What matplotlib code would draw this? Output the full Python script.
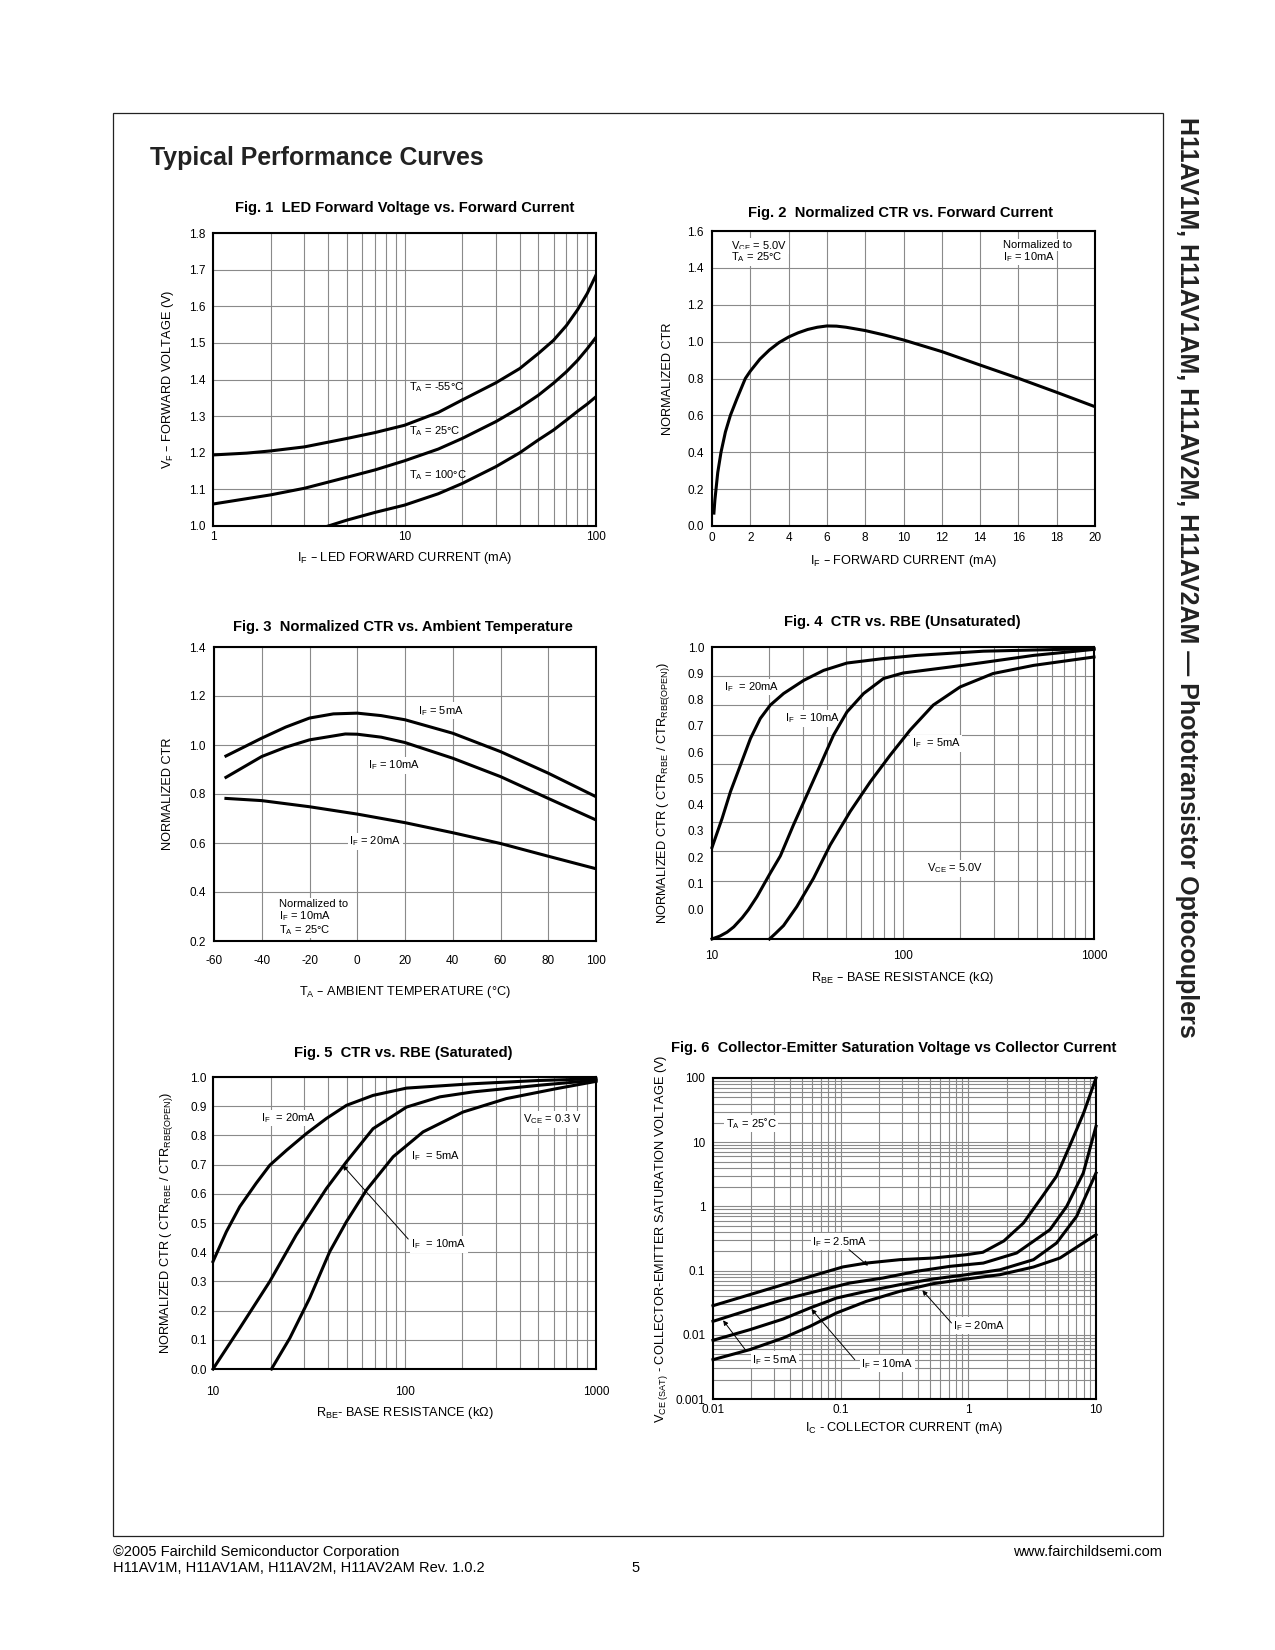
#!/usr/bin/env python3
"""Typical performance curves page (H11AV1M family datasheet, page 5)."""

import matplotlib
matplotlib.use("Agg")
from matplotlib import pyplot as plt
from matplotlib import font_manager
from matplotlib.patches import Rectangle
import numpy as np

# ---- Fig. 1: LED forward voltage vs forward current ----
F1_IF_COLD = [1, 1.5, 2, 3, 5, 7, 10, 15, 20, 30, 40, 50, 60, 70, 80, 90, 100]
F1_VF_COLD = [1.194, 1.199, 1.205, 1.216, 1.239, 1.255, 1.275, 1.31, 1.344,
              1.391, 1.43, 1.471, 1.507, 1.547, 1.59, 1.635, 1.685]
F1_IF_ROOM = [1, 2, 3, 5, 7, 10, 15, 20, 30, 40, 50, 60, 70, 80, 90, 100]
F1_VF_ROOM = [1.06, 1.085, 1.103, 1.133, 1.153, 1.178, 1.21, 1.239, 1.285,
              1.323, 1.357, 1.39, 1.421, 1.452, 1.484, 1.515]
F1_IF_HOT = [4, 5, 7, 10, 15, 20, 30, 40, 50, 60, 70, 80, 90, 100]
F1_VF_HOT = [1.0, 1.016, 1.037, 1.057, 1.088, 1.116, 1.162, 1.2, 1.235,
             1.262, 1.289, 1.313, 1.333, 1.353]

# ---- Fig. 2: normalized CTR vs forward current ----
F2_IF = [0.1, 0.15, 0.21, 0.3, 0.47, 0.7, 0.96, 1.3, 1.74, 2.0, 2.5, 3.0,
         3.5, 4.0, 4.5, 5.0, 5.5, 6.0, 6.5, 7.0, 8.0, 9.0, 10, 12, 14, 16,
         18, 20]
F2_CTR = [0.07, 0.14, 0.2, 0.29, 0.4, 0.51, 0.6, 0.69, 0.8, 0.84, 0.905,
          0.955, 0.995, 1.025, 1.048, 1.066, 1.078, 1.085, 1.084, 1.078, 1.06,
          1.036, 1.009, 0.946, 0.873, 0.801, 0.725, 0.647]

# ---- Fig. 3: normalized CTR vs ambient temperature ----
F3_TA_5 = [-55, -40, -30, -20, -10, 0, 10, 20, 40, 60, 80, 100]
F3_CTR_5 = [0.955, 1.028, 1.073, 1.11, 1.127, 1.13, 1.12, 1.103, 1.048,
            0.973, 0.885, 0.789]
F3_TA_10 = [-55, -40, -30, -20, -5, 0, 10, 20, 40, 60, 80, 100]
F3_CTR_10 = [0.868, 0.953, 0.991, 1.021, 1.045, 1.044, 1.032, 1.01, 0.946,
             0.871, 0.782, 0.694]
F3_TA_20 = [-55, -40, -20, 0, 20, 40, 60, 80, 100]
F3_CTR_20 = [0.782, 0.773, 0.748, 0.718, 0.683, 0.642, 0.598, 0.546, 0.495]

# ---- Fig. 4: CTR vs RBE (unsaturated) ----
F4_R_20 = [10, 11.3, 12.5, 14.1, 15.9, 17.9, 20.2, 23.7, 30.2, 38.4, 50.9,
           79, 118, 263, 1000]
F4_C_20 = [0.237, 0.348, 0.45, 0.551, 0.652, 0.728, 0.779, 0.823, 0.873,
           0.911, 0.939, 0.956, 0.968, 0.984, 0.994]
F4_R_10 = [10, 11, 12, 13, 14.4, 15.5, 17.2, 20.2, 22.8, 26.7, 31.4, 36.9,
           43.3, 50.9, 62.2, 79, 100, 177, 263, 482, 1000]
F4_C_10 = [-0.111, -0.1, -0.085, -0.065, -0.03, 0.0, 0.05, 0.14, 0.205,
           0.323, 0.437, 0.551, 0.665, 0.753, 0.823, 0.88, 0.901, 0.924,
           0.941, 0.968, 0.991]
F4_R_5 = [20, 21.5, 23.7, 27.8, 34, 41.6, 52.9, 67.4, 85.8, 109, 144, 199,
          296, 482, 1000]
F4_C_5 = [-0.111, -0.09, -0.06, 0.012, 0.12, 0.247, 0.374, 0.487, 0.589,
          0.684, 0.779, 0.848, 0.899, 0.93, 0.962]

# ---- Fig. 5: CTR vs RBE (saturated) ----
F5_R_20 = [10, 11.74, 13.8, 16.8, 19.8, 24.2, 30.7, 39.1, 49.8, 68.5, 102.5,
           228, 500, 1000]
F5_C_20 = [0.368, 0.47, 0.556, 0.636, 0.698, 0.749, 0.806, 0.858, 0.903,
           0.937, 0.962, 0.977, 0.988, 0.994]
F5_R_10 = [10, 13.8, 19.8, 27.2, 39.1, 49.8, 68.5, 102.5, 153, 228, 509,
           1000]
F5_C_10 = [0.0, 0.14, 0.3, 0.459, 0.618, 0.71, 0.823, 0.897, 0.932, 0.949,
           0.972, 0.989]
F5_R_5 = [20.2, 25.2, 32, 40.7, 49.8, 63.3, 87.3, 125, 202, 340, 620, 1000]
F5_C_5 = [0.0, 0.106, 0.243, 0.402, 0.505, 0.613, 0.727, 0.812, 0.88, 0.926,
          0.96, 0.985]

# ---- Fig. 6: VCE(sat) vs collector current ----
F6_IC_2_5 = [0.01, 0.0194, 0.0354, 0.0646, 0.104, 0.159, 0.291, 0.531,
             0.969, 1.3, 1.9, 2.7, 3.8, 4.9, 6.2, 8.0, 10]
F6_V_2_5 = [0.0284, 0.0422, 0.0604, 0.0864, 0.114, 0.131, 0.148, 0.157,
            0.177, 0.193, 0.29, 0.55, 1.43, 2.94, 8.6, 28.5, 100]
F6_IC_5 = [0.01, 0.0194, 0.0354, 0.0646, 0.118, 0.215, 0.393, 0.718, 1.31,
           2.39, 4.36, 5.89, 7.95, 10]
F6_V_5 = [0.0162, 0.0246, 0.0353, 0.0476, 0.0641, 0.0767, 0.0975, 0.1165,
          0.131, 0.188, 0.434, 1.0, 3.31, 17.7]
F6_IC_10 = [0.01, 0.0194, 0.0354, 0.0573, 0.0928, 0.159, 0.291, 0.531,
            0.969, 1.77, 3.24, 4.91, 7.05, 10]
F6_V_10 = [0.0082, 0.012, 0.0176, 0.0261, 0.0374, 0.0476, 0.0604, 0.074,
           0.0864, 0.103, 0.148, 0.269, 0.70, 3.31]
F6_IC_20 = [0.01, 0.0194, 0.0354, 0.0573, 0.0928, 0.159, 0.291, 0.531,
            0.969, 1.77, 3.24, 5.22, 10]
F6_V_20 = [0.0041, 0.00587, 0.0089, 0.0135, 0.0219, 0.0332, 0.0476, 0.0626,
           0.074, 0.0864, 0.1138, 0.157, 0.363]

W, H = 1275, 1650
GRID = "#8a8a8a"
CURVE_LW = 2.2
TICK_FS = 8.5
AXLAB_FS = 9.2
NOTE_FS = 8

names = {f.name for f in font_manager.fontManager.ttflist}
plt.rcParams["font.family"] = "Liberation Sans"
plt.rcParams["mathtext.default"] = "regular"
plt.rcParams["axes.unicode_minus"] = False
NARROW = "Liberation Sans Narrow" if "Liberation Sans Narrow" in names \
    else "Liberation Sans"


def fx(x):
    return x / W


def fy(y):
    return 1 - y / H


def make_axes(fig, box):
    # box is (left, top, right, bottom) in page pixels
    l, t, r, b = box
    ax = fig.add_axes([fx(l), fy(b), (r - l) / W, (b - t) / H])
    ax.set_axisbelow(True)
    for s in ax.spines.values():
        s.set_linewidth(1.5)
    ax.tick_params(which="both", length=0, labelsize=TICK_FS)
    ax.grid(which="both", color=GRID, lw=0.8)
    return ax


def log_minor(lo, hi):
    out = []
    dec = lo
    while dec < hi:
        out += [dec * k for k in range(2, 10)]
        dec *= 10
    return out


def labels(ax, box, xlabel, xlab_y, ylabel, ylab_x, xpad, ypad):
    l, t, r, b = box
    ax.tick_params(axis="x", pad=xpad)
    ax.tick_params(axis="y", pad=ypad)
    ax.set_xlabel(xlabel, fontsize=AXLAB_FS)
    ax.xaxis.set_label_coords(0.5, -(xlab_y - b) / (b - t))
    ax.xaxis.label.set_va("center")
    ax.set_ylabel(ylabel, fontsize=AXLAB_FS)
    ax.yaxis.set_label_coords(-(l - ylab_x) / (r - l), 0.5)
    ax.yaxis.label.set_va("center")


def note(ax, x, y, s, ha="left", box=True):
    kw = dict(fontsize=NOTE_FS, ha=ha, va="center", zorder=4)
    if box:
        kw["bbox"] = dict(fc="white", ec="none", pad=1.0)
    ax.text(x, y, s, **kw)


def arrow(ax, tail, tip):
    ax.annotate("", xy=tip, xytext=tail, zorder=6,
                arrowprops=dict(arrowstyle="-|>", color="black", lw=0.7,
                                mutation_scale=7, shrinkA=0, shrinkB=0))


def title(fig, x, y, s):
    fig.text(fx(x), fy(y), s, fontsize=10.6, fontweight="bold",
             ha="center", va="center")


fig = plt.figure(figsize=(W / 100, H / 100), dpi=100)

# page frame and headings
fig.patches.append(Rectangle((fx(112.6), fy(1536)), (1162.5 - 112.6) / W,
                             (1536 - 112.6) / H, transform=fig.transFigure,
                             fill=False, ec="#222222", lw=0.9))
fig.text(fx(150), fy(165), "Typical Performance Curves", fontsize=17.9,
         fontweight="bold", ha="left", va="baseline", color="#222222")
fig.text(fx(1187), fy(577),
         "H11AV1M, H11AV1AM, H11AV2M, H11AV2AM \u2014 Phototransistor Optocouplers",
         fontsize=18, fontweight="bold", rotation=-90, ha="center",
         va="center", color="#222222")
fig.text(fx(112.6), fy(1552), "\u00a92005 Fairchild Semiconductor Corporation",
         fontsize=10.5, family=NARROW, ha="left", va="center")
fig.text(fx(112.6), fy(1567.5),
         "H11AV1M, H11AV1AM, H11AV2M, H11AV2AM Rev. 1.0.2",
         fontsize=10.5, family=NARROW, ha="left", va="center")
fig.text(fx(636), fy(1567.5), "5", fontsize=10.5, family=NARROW,
         ha="center", va="center")
fig.text(fx(1162), fy(1552), "www.fairchildsemi.com", fontsize=10.5,
         family=NARROW, ha="right", va="center")

# ---- Fig. 1 ----
box = (213, 233, 596, 526)
ax = make_axes(fig, box)
ax.set_xscale("log")
ax.set_xlim(1, 100)
ax.set_ylim(1.0, 1.8)
ax.set_xticks([1, 10, 100], ["1", "10", "100"])
ax.set_xticks(log_minor(1, 100), minor=True)
ax.set_xticklabels([], minor=True)
ax.set_yticks(np.round(np.arange(1.0, 1.81, 0.1), 1))
ax.yaxis.set_major_formatter("{x:.1f}")
for xs, ys in [(F1_IF_COLD, F1_VF_COLD), (F1_IF_ROOM, F1_VF_ROOM),
               (F1_IF_HOT, F1_VF_HOT)]:
    ax.plot(xs, ys, color="black", lw=CURVE_LW, zorder=5)
note(ax, 10.5, 1.378, "T$_A$ = -55°C", box=False)
note(ax, 10.5, 1.26, "T$_A$ = 25°C", box=False)
note(ax, 10.5, 1.139, "T$_A$ = 100°C", box=False)
labels(ax, box, "I$_F$ \u2013 LED FORWARD CURRENT (mA)", 558,
       "V$_F$ \u2013 FORWARD VOLTAGE (V)", 168, 3.8, 5.5)
title(fig, 405, 208, "Fig. 1  LED Forward Voltage vs. Forward Current")

# ---- Fig. 2 ----
box = (712, 231, 1095, 526)
ax = make_axes(fig, box)
ax.set_xlim(0, 20)
ax.set_ylim(0, 1.6)
ax.set_xticks(np.arange(0, 21, 2))
ax.set_yticks(np.round(np.arange(0, 1.61, 0.2), 1))
ax.yaxis.set_major_formatter("{x:.1f}")
ax.plot(F2_IF, F2_CTR, color="black", lw=CURVE_LW, zorder=5)
note(ax, 1.0, 1.52, "V$_{CE}$ = 5.0V")
note(ax, 1.0, 1.457, "T$_A$ = 25°C")
note(ax, 15.17, 1.524, "Normalized to")
note(ax, 15.17, 1.459, "I$_F$ = 10mA")
labels(ax, box, "I$_F$ \u2013 FORWARD CURRENT (mA)", 561,
       "NORMALIZED CTR", 668, 4.5, 6.0)
title(fig, 900, 213, "Fig. 2  Normalized CTR vs. Forward Current")

# ---- Fig. 3 ----
box = (214, 647, 596, 941)
ax = make_axes(fig, box)
ax.set_xlim(-60, 100)
ax.set_ylim(0.2, 1.4)
ax.set_xticks(np.arange(-60, 101, 20))
ax.set_yticks(np.round(np.arange(0.2, 1.41, 0.2), 1))
ax.yaxis.set_major_formatter("{x:.1f}")
for xs, ys in [(F3_TA_5, F3_CTR_5), (F3_TA_10, F3_CTR_10),
               (F3_TA_20, F3_CTR_20)]:
    ax.plot(xs, ys, color="black", lw=CURVE_LW, zorder=5)
note(ax, 25.4, 1.14, "I$_F$ = 5mA")
note(ax, 4.4, 0.917, "I$_F$ = 10mA")
note(ax, -3.3, 0.606, "I$_F$ = 20mA")
note(ax, -32.6, 0.35, "Normalized to")
note(ax, -32.6, 0.301, "I$_F$ = 10mA")
note(ax, -32.6, 0.246, "T$_A$ = 25°C")
labels(ax, box, "T$_A$ \u2013 AMBIENT TEMPERATURE (°C)", 992,
       "NORMALIZED CTR", 168, 10.3, 6.0)
title(fig, 403, 627, "Fig. 3  Normalized CTR vs. Ambient Temperature")

# ---- Fig. 4 ----
box = (712, 647, 1094, 939)
ax = make_axes(fig, box)
ax.set_xscale("log")
ax.set_xlim(10, 1000)
ax.set_ylim(-1 / 9, 1.0)
ax.set_xticks([10, 100, 1000], ["10", "100", "1000"])
ax.set_xticks(log_minor(10, 1000), minor=True)
ax.set_xticklabels([], minor=True)
ax.set_yticks(np.round(np.arange(0, 1.01, 0.1), 1))
ax.yaxis.set_major_formatter("{x:.1f}")
ax.set_yticks(np.arange(-1, 10) / 9, minor=True)
ax.grid(False, axis="y", which="major")
ax.grid(True, axis="y", which="minor", color=GRID, lw=0.8)
for xs, ys in [(F4_R_20, F4_C_20), (F4_R_10, F4_C_10), (F4_R_5, F4_C_5)]:
    ax.plot(xs, ys, color="black", lw=CURVE_LW, zorder=5, clip_on=False)
note(ax, 11.5, 0.848, "I$_F$  = 20mA")
note(ax, 24.2, 0.728, "I$_F$  = 10mA")
note(ax, 111, 0.633, "I$_F$  = 5mA")
note(ax, 133, 0.158, "V$_{CE}$ = 5.0V")
labels(ax, box, "R$_{BE}$ \u2013 BASE RESISTANCE (k\u03a9)", 978,
       "NORMALIZED CTR ( CTR$_{RBE}$ / CTR$_{RBE(OPEN)}$)", 663, 8.1, 5.5)
title(fig, 902, 622, "Fig. 4  CTR vs. RBE (Unsaturated)")

# ---- Fig. 5 ----
box = (213, 1077, 596, 1369)
ax = make_axes(fig, box)
ax.set_xscale("log")
ax.set_xlim(10, 1000)
ax.set_ylim(0, 1.0)
ax.set_xticks([10, 100, 1000], ["10", "100", "1000"])
ax.set_xticks(log_minor(10, 1000), minor=True)
ax.set_xticklabels([], minor=True)
ax.set_yticks(np.round(np.arange(0, 1.01, 0.1), 1))
ax.yaxis.set_major_formatter("{x:.1f}")
for xs, ys in [(F5_R_20, F5_C_20), (F5_R_10, F5_C_10), (F5_R_5, F5_C_5)]:
    ax.plot(xs, ys, color="black", lw=CURVE_LW, zorder=5, clip_on=False)
note(ax, 17.9, 0.86, "I$_F$  = 20mA")
note(ax, 107.9, 0.73, "I$_F$  = 5mA")
note(ax, 108.7, 0.427, "I$_F$  = 10mA")
arrow(ax, (104.6, 0.445), (47.5, 0.698))
note(ax, 417, 0.855, "V$_{CE}$ = 0.3 V")
labels(ax, box, "R$_{BE}$- BASE RESISTANCE (k\u03a9)", 1413,
       "NORMALIZED CTR ( CTR$_{RBE}$ / CTR$_{RBE(OPEN)}$)", 167, 12.5, 4.3)
title(fig, 403, 1053, "Fig. 5  CTR vs. RBE (Saturated)")

# ---- Fig. 6 ----
box = (713, 1078, 1096, 1399)
ax = make_axes(fig, box)
ax.set_xscale("log")
ax.set_yscale("log")
ax.set_xlim(0.01, 10)
ax.set_ylim(0.001, 100)
ax.set_xticks([0.01, 0.1, 1, 10], ["0.01", "0.1", "1", "10"])
ax.set_xticks(log_minor(0.01, 10), minor=True)
ax.set_xticklabels([], minor=True)
ax.set_yticks([0.001, 0.01, 0.1, 1, 10, 100],
              ["0.001", "0.01", "0.1", "1", "10", "100"])
ax.set_yticks(log_minor(0.001, 100), minor=True)
ax.set_yticklabels([], minor=True)
for xs, ys in [(F6_IC_2_5, F6_V_2_5), (F6_IC_5, F6_V_5),
               (F6_IC_10, F6_V_10), (F6_IC_20, F6_V_20)]:
    ax.plot(xs, ys, color="black", lw=CURVE_LW, zorder=5, clip_on=False)
note(ax, 0.0126, 19.4, "T$_A$ = 25˚C")
note(ax, 0.0601, 0.282, "I$_F$ = 2.5mA")
arrow(ax, (0.1164, 0.212), (0.1638, 0.119))
note(ax, 0.0202, 0.0041, "I$_F$ = 5mA")
arrow(ax, (0.0183, 0.00553), (0.012, 0.0168))
note(ax, 0.1455, 0.00355, "I$_F$ = 10mA")
arrow(ax, (0.129, 0.0041), (0.059, 0.0252))
note(ax, 0.76, 0.0139, "I$_F$ = 20mA")
arrow(ax, (0.7375, 0.0153), (0.4363, 0.0493))
labels(ax, box, "I$_C$ - COLLECTOR CURRENT (mA)", 1428,
       "V$_{CE\\ (SAT)}$ - COLLECTOR-EMITTER SATURATION VOLTAGE (V)", 662,
       3.8, 5.5)
title(fig, 894, 1048,
      "Fig. 6  Collector-Emitter Saturation Voltage vs Collector Current")

fig.savefig("out.png", dpi=100)
